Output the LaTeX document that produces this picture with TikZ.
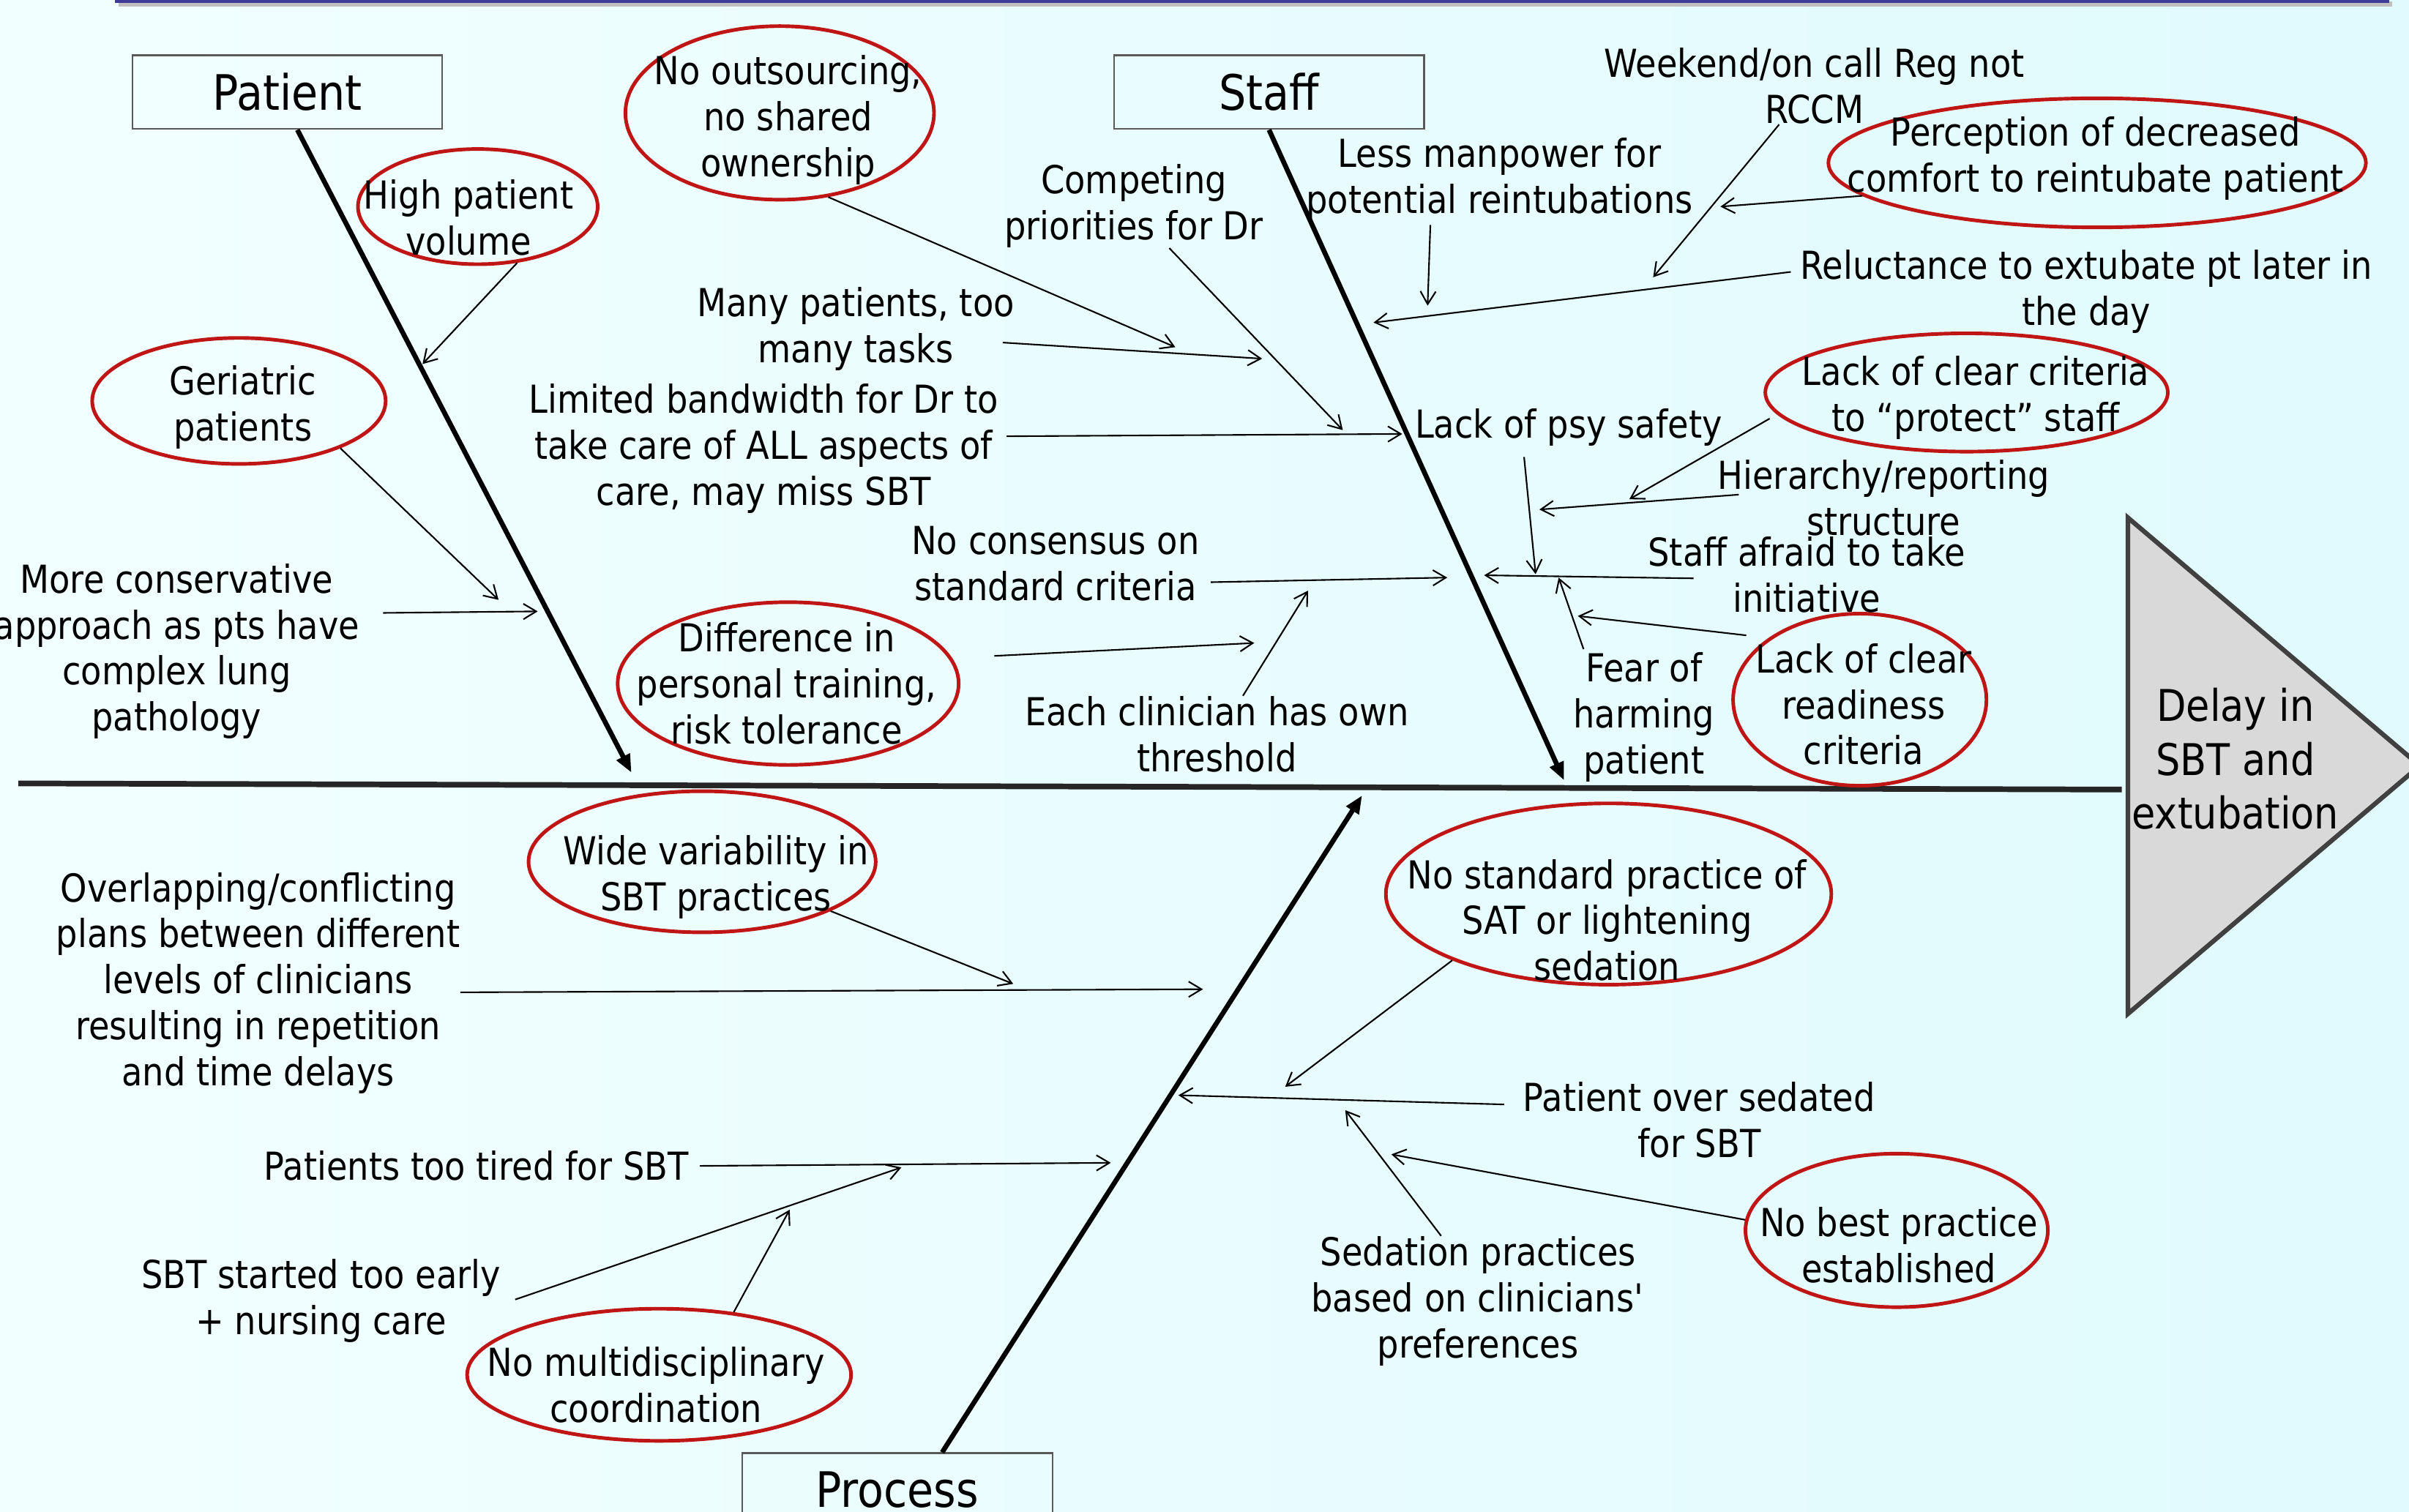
\documentclass[tikz,border=0pt]{standalone}
\usepackage{fontspec}
\setmainfont[FakeStretch=0.88]{DejaVu Sans}
\usepackage{xcolor}
\usetikzlibrary{arrows.meta}
\usetikzlibrary{shapes.geometric}

\definecolor{bgleft}{HTML}{F2FFFF}
\definecolor{bgright}{HTML}{E0FAFD}
\definecolor{topbar}{HTML}{3E3A98}
\definecolor{ringred}{HTML}{C01515}
\definecolor{headgray}{HTML}{D9D9D9}
\definecolor{headline}{HTML}{404040}

\tikzset{
  txt/.style={align=center, inner sep=0pt, yshift=-1.2pt, font=\fontsize{15}{17.9}\selectfont},
  ring/.style={ellipse, draw=ringred, line width=1.4pt, inner sep=0pt},
  cat/.style={draw=black!65, line width=0.6pt, minimum width=120.6pt,
    minimum height=28.7pt, inner sep=0pt, font=\fontsize{19}{22}\selectfont},
  bone/.style={line width=1.9pt, -{Triangle[length=7pt,width=5.5pt]}},
  cause/.style={line width=0.6pt, -{Straight Barb[length=5pt,width=6pt]}},
}

\begin{document}
\begin{tikzpicture}[x=0.02099cm, y=-0.02099cm]
    \useasboundingbox (0,0) rectangle (1568,984);
    \shade[left color=bgleft, right color=bgright] (0,0) rectangle (1568,984);
    \fill[black!25] (77,1) rectangle (1557,4.5);
    \fill[topbar] (75,0) rectangle (1555,2);

    \node[cat] (patient) at (187,60) {Patient};
    \node[cat] (staff) at (826,60) {Staff};
    \node[cat] (process) at (584,970) {Process};

    \filldraw[fill=headgray, draw=headline, line width=1.8pt]
      (1385,337) -- (1575,498.5) -- (1385,660) -- cycle;
    \node[txt, font=\fontsize{17}{20.9}\selectfont] (delay) at (1455,492) {Delay in\\SBT and\\extubation};

    \coordinate (spL) at (12,510);
    \coordinate (spR) at (1381,514);
    \coordinate (pEnd) at (411,503);
    \coordinate (sEnd) at (1018,508);
    \coordinate (prEnd) at (886.6,517.8);
    \draw[line width=2.2pt, black!85] (spL) -- (spR);
    \draw[bone] (patient.-75) -- (pEnd);
    \draw[bone] (staff.south) -- (sEnd);
    \draw[bone] (process.40) -- (prEnd);

    % circled causes
    \node[ring, minimum width=120pt, minimum height=67.5pt] (outsE) at (507.5,73.5) {};
    \node[txt] (outs) at (513,76) {No outsourcing,\\no shared\\ownership};
    \node[ring, minimum width=93.2pt, minimum height=44.8pt] (volE) at (311,134.5) {};
    \node[txt] (vol) at (305,139.5) {High patient\\volume};
    \node[ring, minimum width=114.1pt, minimum height=49pt] (geriE) at (155.5,261) {};
    \node[txt] (geri) at (158,263) {Geriatric\\patients};
    \node[ring, minimum width=132.6pt, minimum height=63.3pt] (diffE) at (513,445) {};
    \node[txt] (diff) at (512,443) {Difference in\\personal training,\\risk tolerance};
    \node[ring, minimum width=209pt, minimum height=50.2pt] (percE) at (1365,106) {};
    \node[txt] (perc) at (1364,101) {Perception of decreased\\comfort to reintubate patient};
    \node[ring, minimum width=156.5pt, minimum height=46pt] (critE) at (1280,255.5) {};
    \node[txt] (crit) at (1286,257) {Lack of clear criteria\\to “protect” staff};
    \node[ring, minimum width=98.5pt, minimum height=66.9pt] (readyE) at (1210.5,455.5) {};
    \node[txt] (ready) at (1213,456.5) {Lack of clear\\readiness\\criteria};
    \node[ring, minimum width=135pt, minimum height=54.9pt] (wideE) at (457,561) {};
    \node[txt] (wide) at (466,569) {Wide variability in\\SBT practices};
    \node[ring, minimum width=149.3pt, minimum height=51.4pt] (multiE) at (429,895) {};
    \node[txt] (multi) at (427,899.5) {No multidisciplinary\\coordination};
    \node[ring, minimum width=173.2pt, minimum height=70.5pt] (satE) at (1047,582) {};
    \node[txt] (sat) at (1046,597) {No standard practice of\\SAT or lightening\\sedation};
    \node[ring, minimum width=117.6pt, minimum height=59.7pt] (bestE) at (1234.5,801) {};
    \node[txt] (best) at (1236,808.5) {No best practice\\established};

    % plain causes
    \node[txt] (cons) at (115,422) {More conservative\\approach as pts have\\complex lung\\pathology};
    \node[txt] (comp) at (738,132) {Competing\\priorities for Dr};
    \node[txt] (many) at (557,212) {Many patients, too\\many tasks};
    \node[txt] (limit) at (497,290) {Limited bandwidth for Dr to\\take care of ALL aspects of\\care, may miss SBT};
    \node[txt] (nocon) at (687,365) {No consensus on\\standard criteria};
    \node[txt] (each) at (792,476) {Each clinician has own\\threshold};
    \node[txt] (week) at (1181,54) {Weekend/on call Reg not\\RCCM};
    \node[txt] (less) at (976,115) {Less manpower for\\potential reintubations};
    \node[txt] (reluc) at (1358,188) {Reluctance to extubate pt later in\\the day};
    \node[txt] (psy) at (1021,276) {Lack of psy safety};
    \node[txt] (hier) at (1226,322) {Hierarchy/reporting\\structure};
    \node[txt] (afraid) at (1176,372) {Staff afraid to take\\initiative};
    \node[txt] (fear) at (1070,465) {Fear of\\harming\\patient};
    \node[txt] (over) at (168,638) {Overlapping/conflicting\\plans between different\\levels of clinicians\\resulting in repetition\\and time delays};
    \node[txt] (tired) at (310,757) {Patients too tired for SBT};
    \node[txt] (early) at (209,845) {SBT started too early\\+ nursing care};
    \node[txt] (sed) at (1106,727) {Patient over sedated\\for SBT};
    \node[txt] (pref) at (962,845) {Sedation practices\\based on clinicians\textquotesingle\\preferences};

    \coordinate (volTip) at (275,237);
    \coordinate (geriTip) at (324.5,390.5);
    \coordinate (consTip) at (350,398);
    \coordinate (outsTip) at (765,226);
    \coordinate (manyTip) at (821.5,233.5);
    \coordinate (compTip) at (874,280);
    \coordinate (limitTip) at (912.7,282.5);
    \coordinate (noconTip) at (942,376);
    \coordinate (diffTip) at (816.4,418.6);
    \coordinate (eachTip) at (851.4,384.5);
    \coordinate (weekTip) at (1076,180.5);
    \coordinate (percTip) at (1119.8,134.5);
    \coordinate (lessTip) at (929.2,199);
    \coordinate (relucTip) at (894,210);
    \coordinate (critTip) at (1060.5,325);
    \coordinate (hierTip) at (1002,331.7);
    \coordinate (psyTip) at (999.5,373.8);
    \coordinate (afraidTip) at (966,374.5);
    \coordinate (fearTip) at (1014.5,376);
    \coordinate (readyTip) at (1027,401);
    \coordinate (wideTip) at (659.5,640.5);
    \coordinate (overTip) at (783,644);
    \coordinate (tiredTip) at (723,757);
    \coordinate (earlyTip) at (586.7,760);
    \coordinate (multiTip) at (514,787.5);
    \coordinate (satTip) at (836.5,707.5);
    \coordinate (sedTip) at (767,713);
    \coordinate (prefTip) at (875.6,722.7);
    \coordinate (bestTip) at (905.6,751.5);

    \draw[cause] (volE.-55) -- (volTip);
    \draw[cause] (geriE.-25) -- (geriTip);
    \draw[cause] (cons.east) ++(15,-25) -- (consTip);
    \draw[cause] (outsE.-60) -- (outsTip);
    \draw[cause] (many.east) ++(-8,9) -- (manyTip);
    \draw[cause] (comp.-50) -- (compTip);
    \draw[cause] (limit.east) ++(5,-8) -- (limitTip);
    \draw[cause] (nocon.east) ++(7,12) -- (noconTip);
    \draw[cause] (diffE.east) ++(22,-18) -- (diffTip);
    \draw[cause] (each.north) ++(17,0) -- (eachTip);
    \draw[cause] (week.south) ++(-23,0) -- (weekTip);
    \draw[cause] (percE.188) -- (percTip);
    \draw[cause] (less.south) ++(-45,2) -- (lessTip);
    \draw[cause] (reluc.west) ++(-6,-13) -- (relucTip);
    \draw[cause] (critE.west) ++(4,17) -- (critTip);
    \draw[cause] (hier.west) ++(14,-2) -- (hierTip);
    \draw[cause] (psy.south) ++(-29,7) -- (psyTip);
    \draw[cause] (afraid.west) ++(30,2.5) -- (afraidTip);
    \draw[cause] (fear.north west) ++(7,-2) -- (fearTip);
    \draw[cause] (readyE.150) ++(-10,-5) -- (readyTip);
    \draw[cause] (wideE.-21) -- (wideTip);
    \draw[cause] (over.east) ++(0,6) -- (overTip);
    \draw[cause] (tired.east) ++(7,0) -- (tiredTip);
    \draw[cause] (early.east) ++(9,-1) -- (earlyTip);
    \draw[cause] (multiE.40) -- (multiTip);
    \draw[cause] (satE.203) -- (satTip);
    \draw[cause] (sed.west) ++(-12,-10) -- (sedTip);
    \draw[cause] (pref.north) ++(-24,0) -- (prefTip);
    \draw[cause] (bestE.176) -- (bestTip);
  \end{tikzpicture}
\end{document}
